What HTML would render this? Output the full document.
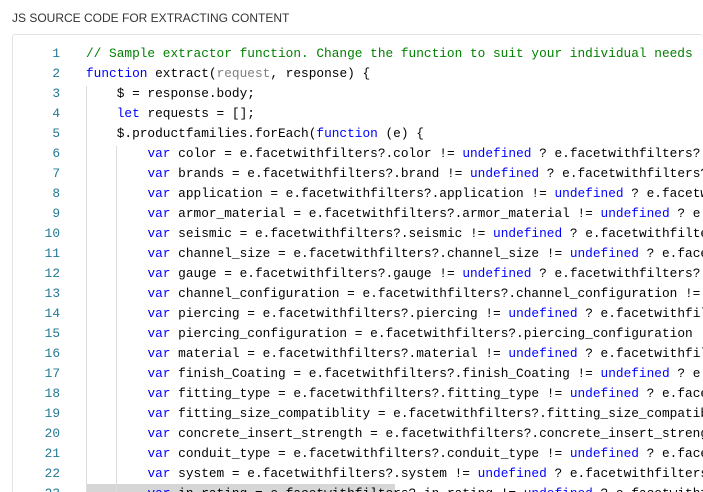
<!DOCTYPE html>
<html><head><meta charset="utf-8"><style>
html,body{margin:0;width:703px;height:492px;overflow:hidden;background:#fff;font-family:"Liberation Sans",sans-serif;}
#w{position:absolute;left:0;top:0;width:703px;height:492px;overflow:hidden;}
.title{position:absolute;left:12px;top:11px;font-size:12px;color:#333;}
.box{position:absolute;left:12px;top:34px;width:691px;height:470px;border:1px solid #e3e3e3;border-right:none;border-radius:3px;box-sizing:border-box;}
.ln{position:absolute;left:0;width:60px;text-align:right;font-family:"Liberation Mono",monospace;font-size:12.8px;color:#237893;}
.code{position:absolute;left:86px;white-space:pre;font-family:"Liberation Mono",monospace;font-size:12.8px;color:#000;}
.c{color:#008000}.k{color:#0000ff}.p{color:#808080}.g{position:absolute;width:1px;background:#ddd}
</style></head><body><div id="w">
<div class="title">JS SOURCE CODE FOR EXTRACTING CONTENT</div>
<div class="box"></div>
<div style="position:absolute;left:86px;top:484px;width:309px;height:20px;background:#d6d6d6"></div>
<div class="g" style="left:86px;top:86px;height:420px"></div>
<div class="g" style="left:116px;top:146px;height:360px"></div>
<div id="c"></div>
</div>
<script>
var L=[
'<span class="c">// Sample extractor function. Change the function to suit your individual needs</span>',
'<span class="k">function</span> extract(<span class="p">request</span>, response) {',
'    $ = response.body;',
'    <span class="k">let</span> requests = [];',
'    $.productfamilies.forEach(<span class="k">function</span> (e) {'];
var vs=[['color','color'],['brands','brand'],['application','application'],['armor_material','armor_material'],['seismic','seismic'],['channel_size','channel_size'],['gauge','gauge'],['channel_configuration','channel_configuration'],['piercing','piercing'],['piercing_configuration','piercing_configuration'],['material','material'],['finish_Coating','finish_Coating'],['fitting_type','fitting_type'],['fitting_size_compatiblity','fitting_size_compatiblity'],['concrete_insert_strength','concrete_insert_strength'],['conduit_type','conduit_type'],['system','system'],['in_rating','in_rating']];
vs.forEach(function(v){L.push('        <span class="k">var</span> '+v[0]+' = e.facetwithfilters?.'+v[1]+' != <span class="k">undefined</span> ? e.facetwithfilters?.'+v[1]);});
var h='';
for(var i=0;i<L.length;i++){var y=46+i*20;
h+='<div class="ln" style="top:'+y+'px">'+(i+1)+'</div><div class="code" style="top:'+y+'px">'+L[i]+'</div>';}
document.getElementById('c').innerHTML=h;
</script>
</body></html>
